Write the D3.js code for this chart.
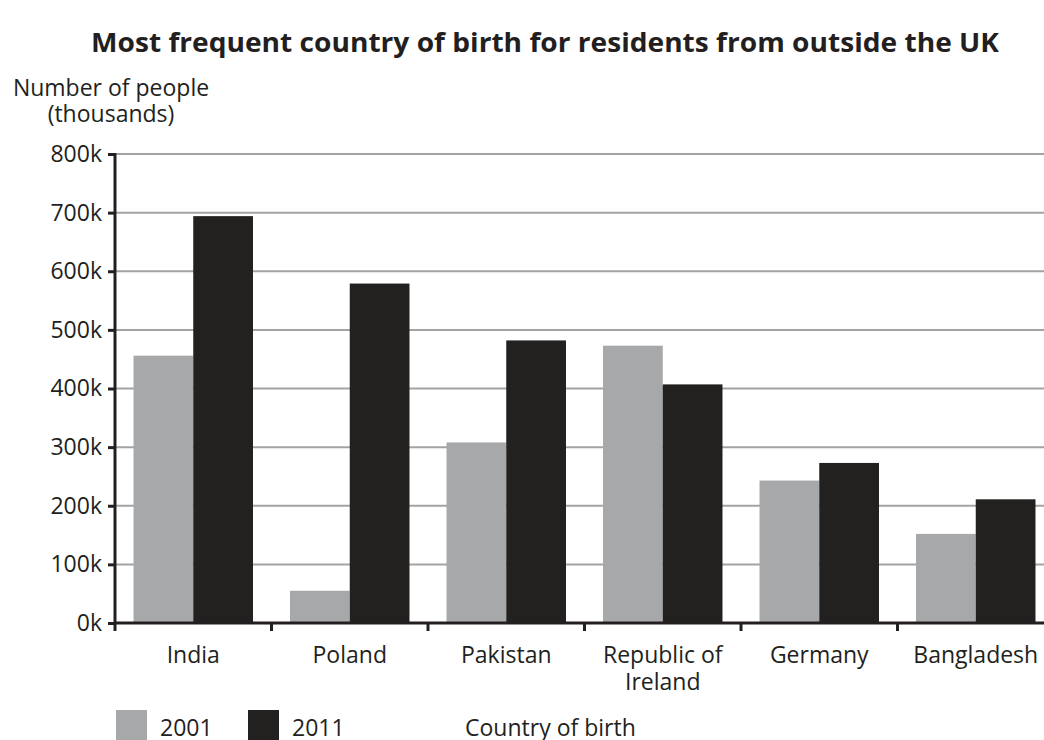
<!DOCTYPE html>
<html>
<head>
<meta charset="utf-8">
<script src="https://cdn.jsdelivr.net/npm/d3@7"></script>
<style>
  body { margin: 0; background: #fff; }
  svg { display: block; }
  text { font-family: "Open Sans", "Noto Sans", sans-serif; fill: #231f20; }
</style>
</head>
<body>
<svg id="chart" width="1044" height="740"></svg>
<script>
// data (thousands)
var countries = ["India", "Poland", "Pakistan", "Republic of Ireland", "Germany", "Bangladesh"];
var years = ["2001", "2011"];
var values2001 = [456, 55, 308, 473, 243, 152];
var values2011 = [694, 579, 482, 407, 273, 211];
var yTicks = [0, 100, 200, 300, 400, 500, 600, 700, 800];

var colors = { "2001": "#a7a8aa", "2011": "#222120" };

var svg = d3.select("#chart");

var plotLeft = 115, plotRight = 1054, plotTop = 154, plotBottom = 623;
var fs = "23px";

var x = d3.scaleBand()
    .domain(countries)
    .range([plotLeft, plotRight])
    .paddingInner(0)
    .paddingOuter(0);

// two bars per country, ~30px gap each side
var xs = d3.scaleBand()
    .domain(years)
    .range([0, x.bandwidth()])
    .paddingOuter(0.31)
    .paddingInner(0);

var y = d3.scaleLinear().domain([0, 800]).range([plotBottom, plotTop]);

// gridlines
svg.append("g")
    .selectAll("line")
    .data(yTicks.slice(1))
    .enter()
    .append("line")
    .attr("x1", plotLeft)
    .attr("x2", plotRight)
    .attr("y1", function(d) { return y(d); })
    .attr("y2", function(d) { return y(d); })
    .style("stroke", "#a3a3a3")
    .style("stroke-width", 2);

// bars
var rows = countries.map(function(c, i) {
    return { country: c, vals: [["2001", values2001[i]], ["2011", values2011[i]]] };
});

var groups = svg.selectAll("g.country")
    .data(rows)
    .enter()
    .append("g")
    .attr("class", "country")
    .attr("transform", function(d) { return "translate(" + x(d.country) + ",0)"; });

groups.selectAll("rect")
    .data(function(d) { return d.vals; })
    .enter()
    .append("rect")
    .attr("x", function(d) { return xs(d[0]); })
    .attr("width", xs.bandwidth())
    .attr("y", function(d) { return y(d[1]); })
    .attr("height", function(d) { return y(0) - y(d[1]); })
    .style("fill", function(d) { return colors[d[0]]; });

// y axis
var yAxis = svg.append("g")
    .attr("transform", "translate(" + plotLeft + ",0)")
    .call(d3.axisLeft(y).tickValues(yTicks).tickSize(7).tickPadding(6)
        .tickFormat(function(d) { return d + "k"; }));
yAxis.select(".domain").remove();
yAxis.selectAll(".tick line").style("stroke", "#231f20").style("stroke-width", 3);
yAxis.selectAll("text").style("font-size", fs).attr("fill", "#231f20");
yAxis.append("line")
    .attr("x1", 0).attr("x2", 0)
    .attr("y1", plotTop - 1).attr("y2", plotBottom + 8)
    .style("stroke", "#231f20").style("stroke-width", 3);

// x axis line + ticks at band edges
svg.append("line")
    .attr("x1", plotLeft).attr("x2", plotRight)
    .attr("y1", plotBottom).attr("y2", plotBottom)
    .style("stroke", "#231f20").style("stroke-width", 3);

svg.append("g")
    .selectAll("line")
    .data(countries.slice(1))
    .enter()
    .append("line")
    .attr("x1", function(d) { return x(d); })
    .attr("x2", function(d) { return x(d); })
    .attr("y1", plotBottom)
    .attr("y2", plotBottom + 8)
    .style("stroke", "#231f20")
    .style("stroke-width", 3);

// category labels
var labelLines = {
    "Republic of Ireland": ["Republic of", "Ireland"]
};
svg.append("g")
    .selectAll("text")
    .data(countries)
    .enter()
    .append("text")
    .attr("text-anchor", "middle")
    .style("font-size", fs)
    .attr("y", 663)
    .each(function(d) {
        var lines = labelLines[d] || [d];
        var t = d3.select(this);
        lines.forEach(function(l, i) {
            t.append("tspan")
                .attr("x", x(d) + x.bandwidth() / 2)
                .attr("dy", i === 0 ? 0 : 27)
                .text(l);
        });
    });

// title
svg.append("text")
    .attr("x", 545)
    .attr("y", 52)
    .attr("text-anchor", "middle")
    .attr("textLength", 908)
    .attr("lengthAdjust", "spacingAndGlyphs")
    .style("font-size", "27px")
    .style("font-weight", "700")
    .text("Most frequent country of birth for residents from outside the UK");

// y axis title
svg.append("text")
    .attr("x", 111)
    .attr("y", 96)
    .attr("text-anchor", "middle")
    .style("font-size", fs)
    .text("Number of people");
svg.append("text")
    .attr("x", 111)
    .attr("y", 122)
    .attr("text-anchor", "middle")
    .style("font-size", fs)
    .text("(thousands)");

// legend
var legend = svg.append("g")
    .selectAll("g")
    .data(years)
    .enter()
    .append("g")
    .attr("transform", function(d, i) { return "translate(" + (116 + i * 132) + ",710)"; });
legend.append("rect")
    .attr("width", 31)
    .attr("height", 31)
    .style("fill", function(d) { return colors[d]; });
legend.append("text")
    .attr("x", 44)
    .attr("y", 26)
    .style("font-size", fs)
    .text(function(d) { return d; });

svg.append("text")
    .attr("x", 465)
    .attr("y", 736)
    .style("font-size", fs)
    .text("Country of birth");
</script>
</body>
</html>
